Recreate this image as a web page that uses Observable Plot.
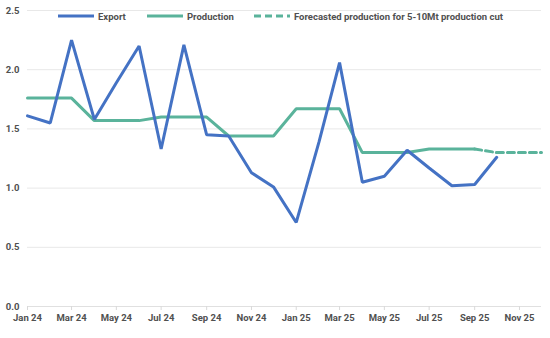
<!DOCTYPE html>
<html>
<head>
<meta charset="utf-8">
<script src="https://cdn.jsdelivr.net/npm/d3@7"></script>
<script src="https://cdn.jsdelivr.net/npm/@observablehq/plot@0.6"></script>
<style>
  html, body { margin: 0; padding: 0; background: #fff; }
  #wrap { position: relative; width: 550px; height: 338px; font-family: Roboto, "Noto Sans", sans-serif; }
  #legend { position: absolute; top: 9px; left: 0; width: 550px; height: 14px; font-size: 9.5px; font-weight: 700; color: #505050; }
  .item { position: absolute; top: 0; display: flex; align-items: center; height: 14px; white-space: nowrap; }
  .item svg { margin-right: 3px; }
</style>
</head>
<body>
<div id="wrap">
  <div id="chart"></div>
  <div id="legend"></div>
</div>
<script>
// Months (first of month) for the series
const exportMonths = ["2024-01","2024-02","2024-03","2024-04","2024-05","2024-06","2024-07","2024-08","2024-09","2024-10","2024-11","2024-12",
                      "2025-01","2025-02","2025-03","2025-04","2025-05","2025-06","2025-07","2025-08","2025-09","2025-10"];
const exportValues = [1.61,1.55,2.25,1.58,1.89,2.20,1.33,2.21,1.45,1.44,1.13,1.01,
                      0.71,1.39,2.06,1.05,1.10,1.32,1.17,1.02,1.03,1.26];

const productionMonths = ["2024-01","2024-02","2024-03","2024-04","2024-05","2024-06","2024-07","2024-08","2024-09","2024-10","2024-11","2024-12",
                          "2025-01","2025-02","2025-03","2025-04","2025-05","2025-06","2025-07","2025-08","2025-09"];
const productionValues = [1.76,1.76,1.76,1.57,1.57,1.57,1.60,1.60,1.60,1.44,1.44,1.44,
                          1.67,1.67,1.67,1.30,1.30,1.30,1.33,1.33,1.33];

const forecastMonths = ["2025-09","2025-10","2025-11","2025-12"];
const forecastValues = [1.33,1.30,1.30,1.30];

const seriesNames = ["Export", "Production", "Forecasted production for 5-10Mt production cut"];
const yTicks = [0, 0.5, 1.0, 1.5, 2.0, 2.5];
const xDomain = ["2024-01", "2025-12"];

const COL_EXPORT = "#4472c4";
const COL_PROD = "#5ab39b";
const TEXT = "#505050";

const parse = s => new Date(s + "-01T00:00:00Z");
const toRows = (ms, vs) => ms.map((m, i) => ({date: parse(m), value: vs[i]}));
const exportData = toRows(exportMonths, exportValues);
const prodData = toRows(productionMonths, productionValues);
const fcData = toRows(forecastMonths, forecastValues);

const chart = Plot.plot({
  width: 550,
  height: 338,
  marginLeft: 27,
  marginRight: 9,
  marginTop: 10,
  marginBottom: 32,
  style: { fontFamily: "Roboto, 'Noto Sans', sans-serif", fontSize: "9.5px", fontWeight: 700, color: TEXT, background: "#fff" },
  x: { type: "utc", domain: xDomain.map(parse) },
  y: { domain: [0, 2.5] },
  marks: [
    Plot.gridY(yTicks, { stroke: "#e8e8e8", strokeOpacity: 1, strokeWidth: 1 }),
    Plot.ruleY([0], { stroke: "#e0e0e0", strokeWidth: 1 }),
    Plot.axisY(yTicks, { tickSize: 0, tickPadding: 8, tickFormat: d3.format(".1f"), label: null, fill: TEXT }),
    Plot.axisX({ ticks: d3.utcMonth.every(2), tickFormat: d3.utcFormat("%b %y"), tickSize: 4, tickPadding: 4, stroke: "#d9d9d9", label: null, fill: TEXT }),
    Plot.line(fcData, { x: "date", y: "value", stroke: COL_PROD, strokeWidth: 3, strokeDasharray: "7,4", strokeLinejoin: "miter" }),
    Plot.line(prodData, { x: "date", y: "value", stroke: COL_PROD, strokeWidth: 3, strokeLinejoin: "miter" }),
    Plot.line(exportData, { x: "date", y: "value", stroke: COL_EXPORT, strokeWidth: 3, strokeLinejoin: "miter" })
  ]
});
document.getElementById("chart").appendChild(chart);

// Legend
const legend = document.getElementById("legend");
const legendItems = [
  { name: seriesNames[0], color: COL_EXPORT, dash: null, left: 58 },
  { name: seriesNames[1], color: COL_PROD, dash: null, left: 147 },
  { name: seriesNames[2], color: COL_PROD, dash: "7,4", left: 254 }
];
legendItems.forEach(it => {
  const d = document.createElement("div");
  d.className = "item";
  d.style.left = it.left + "px";
  d.innerHTML = `<svg width="37" height="6"><line x1="0" y1="3" x2="36" y2="3" stroke="${it.color}" stroke-width="3" ${it.dash ? `stroke-dasharray="${it.dash}"` : ""}/></svg><span>${it.name}</span>`;
  legend.appendChild(d);
});
</script>
</body>
</html>
